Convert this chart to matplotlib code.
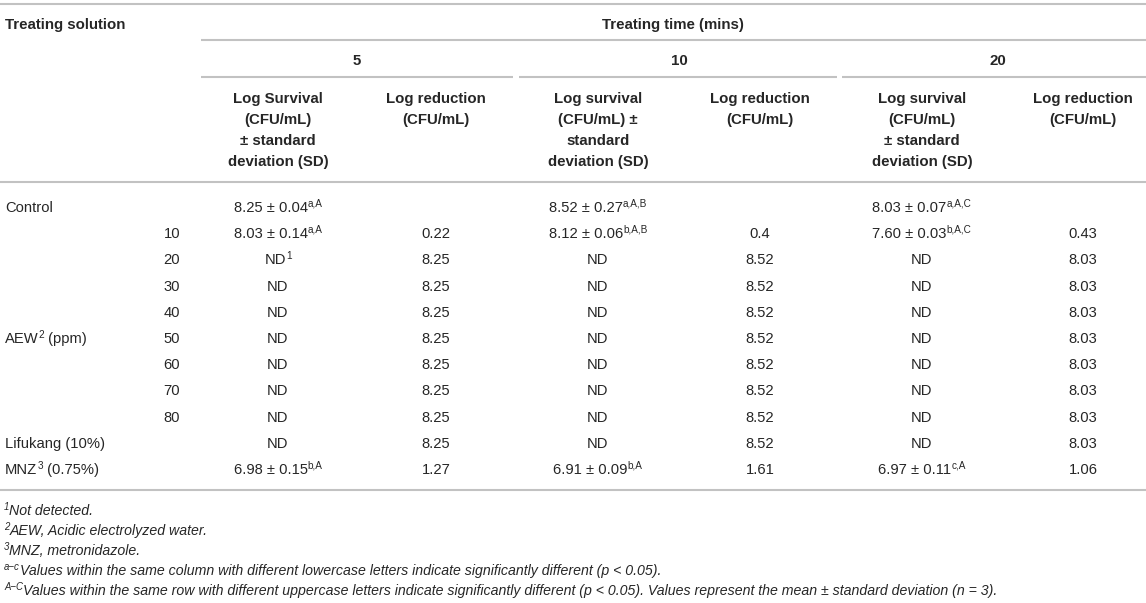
import matplotlib
matplotlib.use("Agg")
import matplotlib.pyplot as plt

plt.rcParams['font.family'] = ['Liberation Sans', 'DejaVu Sans']

# table content
times = ['5', '10', '20']
solutions = ['Control', '', '', '', '', 'AEW|2| (ppm)', '', '', '', 'Lifukang (10%)', 'MNZ|3| (0.75%)']
conc = ['', '10', '20', '30', '40', '50', '60', '70', '80', '', '']

survival_5 = ['8.25 ± 0.04', '8.03 ± 0.14', 'ND', 'ND', 'ND', 'ND', 'ND', 'ND', 'ND', 'ND', '6.98 ± 0.15']
letters_5 = ['a,A', 'a,A', '1', '', '', '', '', '', '', '', 'b,A']
reduction_5 = ['', '0.22', '8.25', '8.25', '8.25', '8.25', '8.25', '8.25', '8.25', '8.25', '1.27']

survival_10 = ['8.52 ± 0.27', '8.12 ± 0.06', 'ND', 'ND', 'ND', 'ND', 'ND', 'ND', 'ND', 'ND', '6.91 ± 0.09']
letters_10 = ['a,A,B', 'b,A,B', '', '', '', '', '', '', '', '', 'b,A']
reduction_10 = ['', '0.4', '8.52', '8.52', '8.52', '8.52', '8.52', '8.52', '8.52', '8.52', '1.61']

survival_20 = ['8.03 ± 0.07', '7.60 ± 0.03', 'ND', 'ND', 'ND', 'ND', 'ND', 'ND', 'ND', 'ND', '6.97 ± 0.11']
letters_20 = ['a,A,C', 'b,A,C', '', '', '', '', '', '', '', '', 'c,A']
reduction_20 = ['', '0.43', '8.03', '8.03', '8.03', '8.03', '8.03', '8.03', '8.03', '8.03', '1.06']

surv_head_5 = ['Log Survival', '(CFU/mL)', '± standard', 'deviation (SD)']
surv_head_10 = ['Log survival', '(CFU/mL) ±', 'standard', 'deviation (SD)']
surv_head_20 = ['Log survival', '(CFU/mL)', '± standard', 'deviation (SD)']
red_head = ['Log reduction', '(CFU/mL)']

# "|x|" marks a superscript run
footnotes = [
    '|1|Not detected.',
    '|2|AEW, Acidic electrolyzed water.',
    '|3|MNZ, metronidazole.',
    '|a\u2212c|Values within the same column with different lowercase letters indicate significantly different (p < 0.05).',
    '|A\u2212C|Values within the same row with different uppercase letters indicate significantly different (p < 0.05). '
    'Values represent the mean ± standard deviation (n = 3).',
]

fig = plt.figure(figsize=(11.46, 6.03), dpi=100)
ax = fig.add_axes([0, 0, 1, 1])
ax.set_xlim(0, 1146)
ax.set_ylim(603, 0)
ax.axis('off')
renderer = fig.canvas.get_renderer()

txt = '#262626'
line_c = '#c2c2c2'
fs_body = 10.6
fs_head = 10.8
fs_note = 10.2
off = 5  # baseline below visual centre of capitals


def width(s, **kw):
    t = ax.text(0, 0, s, **kw)
    w = t.get_window_extent(renderer).width
    t.remove()
    return w


def put(x, y, s, ha='center', fs=fs_body, **kw):
    # plain text, or runs split by "|" where odd runs are superscripts
    runs = s.split('|')
    sup_fs = fs * 0.68
    widths = []
    for k, r in enumerate(runs):
        size = sup_fs if k % 2 else fs
        widths.append(width(r, fontsize=size, **kw) if r else 0)
    total = sum(widths)
    if ha == 'center':
        x0 = x - total / 2
    else:
        x0 = x
    for k, (r, w) in enumerate(zip(runs, widths)):
        if r:
            if k % 2:
                ax.text(x0, y + off - fs * 0.5, r, ha='left', va='baseline', fontsize=sup_fs, color=txt, **kw)
            else:
                ax.text(x0, y + off, r, ha='left', va='baseline', fontsize=fs, color=txt, **kw)
        x0 += w


def hline(y, x0, x1):
    ax.plot([x0, x1], [y, y], color=line_c, lw=1.5, solid_capstyle='butt')


# rules
hline(4, 0, 1146)
hline(40, 201, 1146)
hline(77, 201, 513)
hline(77, 519, 837)
hline(77, 842, 1146)
hline(182, 0, 1146)
hline(490, 0, 1146)

# header
put(5, 24, 'Treating solution', ha='left', fs=fs_head, fontweight='bold')
put(673, 24, 'Treating time (mins)', fs=fs_head, fontweight='bold')
group_x = [357, 679, 998]
for gx, t in zip(group_x, times):
    put(gx, 60, t, fs=fs_head, fontweight='bold')

surv_x = [278, 598, 922]
red_x = [436, 760, 1083]
head_y = [98, 119, 140, 161]
for sx, heads in zip(surv_x, [surv_head_5, surv_head_10, surv_head_20]):
    for hy, h in zip(head_y, heads):
        put(sx, hy, h, fs=fs_head, fontweight='bold')
for rx in red_x:
    for hy, h in zip(head_y, red_head):
        put(rx, hy, h, fs=fs_head, fontweight='bold')

# body
surv_cols = [(survival_5, letters_5), (survival_10, letters_10), (survival_20, letters_20)]
red_cols = [reduction_5, reduction_10, reduction_20]
for i in range(len(conc)):
    y = 207 + i * 26.2
    if solutions[i]:
        put(5, y, solutions[i], ha='left')
    if conc[i]:
        put(172, y, conc[i])
    for sx, (vals, lets) in zip(surv_x, surv_cols):
        s = vals[i]
        if lets[i]:
            s += '|' + lets[i] + '|'
        put(sx, y, s)
    for rx, vals in zip(red_x, red_cols):
        if vals[i]:
            put(rx, y, vals[i])

# footnotes
for k, note in enumerate(footnotes):
    put(4, 510 + k * 20, note, ha='left', fs=fs_note, style='italic')

fig.savefig('out.png', dpi=100, facecolor='white')
